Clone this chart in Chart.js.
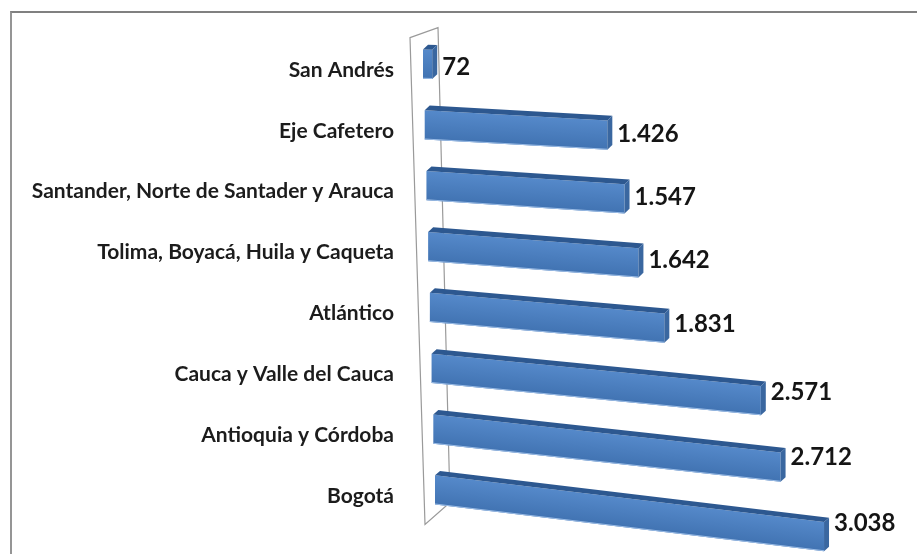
<!DOCTYPE html>
<html>
<head>
<meta charset="utf-8">
<script src="https://cdn.jsdelivr.net/npm/chart.js@4"></script>
<style>
  body { margin: 0; background: #fff; }
  .frame { position: absolute; left: 10px; top: 11px; width: 920px; height: 560px;
           border-top: 2px solid #808080; border-left: 2px solid #959595; }
  canvas { position: absolute; left: 0; top: 0; }
</style>
</head>
<body>
<div class="frame"></div>
<canvas id="chart" width="917" height="554"></canvas>
<script>
const categories = [
  'San Andrés',
  'Eje Cafetero',
  'Santander, Norte de Santader y Arauca',
  'Tolima, Boyacá, Huila y Caqueta',
  'Atlántico',
  'Cauca y Valle del Cauca',
  'Antioquia y Córdoba',
  'Bogotá'
];
const values = [72, 1426, 1547, 1642, 1831, 2571, 2712, 3038];

// perspective look of the original 3D chart
const shiftTop = 0, shiftBottom = 12;
const tiltTop = 0.045, tiltBottom = 0.12;
const depth = 5;

const fmt = (v) => String(v).replace(/\B(?=(\d{3})+(?!\d))/g, '.');

const bar3d = {
  id: 'bar3d',
  beforeDatasetsDraw(chart) {
    // back wall outline
    const ctx = chart.ctx;
    const a = chart.chartArea;
    ctx.save();
    ctx.strokeStyle = '#9a9a9a';
    ctx.lineWidth = 1.2;
    ctx.beginPath();
    ctx.moveTo(a.left - 13, a.top + 4);
    ctx.lineTo(a.left + 15, a.top - 6);
    ctx.lineTo(a.left + 27, a.bottom - 18);
    ctx.lineTo(a.left + 2, a.bottom + 4);
    ctx.closePath();
    ctx.stroke();
    ctx.restore();
  },
  beforeDatasetDraw(chart, args) {
    const ctx = chart.ctx;
    const bars = args.meta.data;
    const n = bars.length;
    bars.forEach((bar, i) => {
      const t = i / (n - 1);
      const shift = shiftTop + (shiftBottom - shiftTop) * t;
      const slope = tiltTop + (tiltBottom - tiltTop) * t;
      const p = bar.getProps(['x', 'y', 'base', 'height'], true);
      const len = p.x - p.base;
      const h = p.height;
      ctx.save();
      ctx.translate(p.base + shift, p.y);
      ctx.transform(1, slope, 0, 1, 0, 0);
      // front face
      const g = ctx.createLinearGradient(0, -h / 2, 0, h / 2);
      g.addColorStop(0, '#5589ca');
      g.addColorStop(1, '#4173b2');
      ctx.fillStyle = g;
      ctx.fillRect(0, -h / 2, len, h);
      ctx.fillStyle = '#9cbde6';
      ctx.fillRect(0, h / 2 - 1, len, 1);
      // top face
      ctx.fillStyle = '#2d5890';
      ctx.beginPath();
      ctx.moveTo(0, -h / 2);
      ctx.lineTo(depth, -h / 2 - depth);
      ctx.lineTo(len + depth, -h / 2 - depth);
      ctx.lineTo(len, -h / 2);
      ctx.closePath();
      ctx.fill();
      // end face
      ctx.fillStyle = '#3a67a0';
      ctx.beginPath();
      ctx.moveTo(len, -h / 2);
      ctx.lineTo(len + depth, -h / 2 - depth);
      ctx.lineTo(len + depth, h / 2 - depth);
      ctx.lineTo(len, h / 2);
      ctx.closePath();
      ctx.fill();
      ctx.restore();
      // value label
      ctx.save();
      ctx.fillStyle = '#151515';
      ctx.font = 'bold 24px Lato';
      ctx.textAlign = 'left';
      ctx.textBaseline = 'middle';
      ctx.fillText(fmt(values[i]), p.base + shift + len + depth + 5, p.y + slope * len * 0.65 + 3);
      ctx.restore();
    });
    return false;
  }
};

new Chart(document.getElementById('chart'), {
  type: 'bar',
  data: {
    labels: categories,
    datasets: [{
      data: values,
      backgroundColor: '#4a7ebf',
      barPercentage: 0.48,
      categoryPercentage: 1
    }]
  },
  options: {
    responsive: false,
    animation: false,
    indexAxis: 'y',
    layout: { padding: { top: 19, bottom: 26, right: 33, left: 0 } },
    plugins: { legend: { display: false }, tooltip: { enabled: false } },
    scales: {
      x: { display: false, min: 0, max: 3600 },
      y: {
        afterFit: (s) => { s.width = 423; },
        grid: { display: false },
        border: { display: false },
        ticks: {
          padding: 21,
          labelOffset: 6,
          color: '#1c1c1c',
          font: { family: 'Lato', weight: 'bold', size: 21 }
        }
      }
    }
  },
  plugins: [bar3d]
});
</script>
</body>
</html>
